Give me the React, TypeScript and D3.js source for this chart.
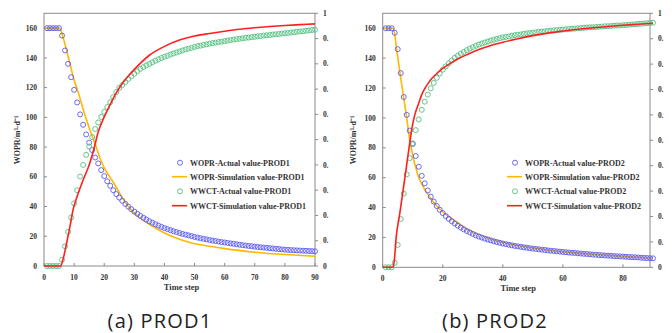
import React from "react";
import * as d3 from "d3";

// time steps for the marker series
const timeSteps = d3.range(1, 91);

// PROD1 actual values (markers)
const prod1WoprActual = [
  160, 160, 160, 160, 160, 155, 145, 136, 127, 118.5,
  110, 102, 95, 88.5, 83, 78, 73, 69, 64.5, 60.5,
  57, 54, 51, 48.4, 46, 43.8, 41.8, 39.9, 38.2, 36.6,
  35.1, 33.7, 32.4, 31.2, 30.1, 29.1, 28.1, 27.2, 26.3, 25.5,
  24.8, 24.1, 23.4, 22.8, 22.2, 21.6, 21.1, 20.6, 20.1, 19.6,
  19.1, 18.7, 18.3, 17.9, 17.5, 17.1, 16.8, 16.4, 16.1, 15.8,
  15.5, 15.2, 14.9, 14.6, 14.3, 14.0, 13.8, 13.5, 13.3, 13.0,
  12.8, 12.6, 12.4, 12.2, 12.0, 11.8, 11.6, 11.4, 11.2, 11.0,
  10.9, 10.7, 10.6, 10.5, 10.4, 10.3, 10.2, 10.1, 10.0, 9.9,
];
const prod1WwctActual = [
  0, 0, 0, 0, 0, 0.025, 0.078, 0.135, 0.192, 0.248,
  0.3, 0.354, 0.4, 0.44, 0.473, 0.51, 0.542, 0.568, 0.59, 0.61,
  0.629, 0.648, 0.668, 0.688, 0.705, 0.716, 0.728, 0.74, 0.751, 0.761,
  0.771, 0.78, 0.787, 0.794, 0.8, 0.806, 0.812, 0.818, 0.823, 0.828,
  0.832, 0.837, 0.841, 0.845, 0.849, 0.853, 0.857, 0.86, 0.863, 0.867,
  0.87, 0.872, 0.875, 0.877, 0.88, 0.882, 0.884, 0.886, 0.888, 0.89,
  0.892, 0.894, 0.896, 0.898, 0.899, 0.901, 0.903, 0.904, 0.906, 0.907,
  0.909, 0.91, 0.912, 0.913, 0.914, 0.916, 0.917, 0.918, 0.92, 0.921,
  0.922, 0.924, 0.925, 0.927, 0.928, 0.929, 0.931, 0.932, 0.934, 0.935,
];
// PROD1 simulation curves
const prod1WoprSimT = [0, 5, 5.5, 6, 7, 8, 9, 10, 11, 12, 13, 14, 15, 16, 17, 18, 19, 20, 22, 24, 26, 28, 30, 35, 40, 45, 50, 55, 60, 70, 80, 90];
const prod1WoprSim = [160, 160, 159, 156, 149, 141, 133, 125, 119, 112.5, 105.5, 99, 93, 87.5, 82, 76, 70.5, 66, 59.5, 53, 46, 40, 35.5, 28, 22.2, 18, 15, 13.3, 11.7, 9.3, 7.7, 6.6];
const prod1WwctSimT = [0, 5.5, 6.5, 7.5, 8.6, 9.7, 11, 13, 15, 16.5, 18, 20, 22, 24, 26, 28, 30, 35, 40, 45, 50, 55, 60, 65, 70, 75, 80, 85, 90];
const prod1WwctSim = [0, 0, 0.035, 0.09, 0.155, 0.225, 0.275, 0.34, 0.4, 0.46, 0.53, 0.59, 0.64, 0.685, 0.722, 0.752, 0.778, 0.834, 0.869, 0.894, 0.91, 0.92, 0.929, 0.937, 0.943, 0.948, 0.952, 0.955, 0.958];

// PROD2 actual values (markers)
const prod2WoprActual = [
  160, 160, 160, 157, 146, 130, 114, 102, 91.5, 82.5,
  74.5, 67.3, 61.2, 56.2, 51.4, 47.3, 44.0, 41.0, 38.5, 36.3,
  34.3, 32.4, 30.8, 29.3, 27.9, 26.6, 25.4, 24.3, 23.3, 22.3,
  21.4, 20.6, 19.9, 19.2, 18.6, 18.0, 17.4, 16.9, 16.4, 15.9,
  15.5, 15.1, 14.7, 14.3, 14.0, 13.7, 13.4, 13.1, 12.8, 12.5,
  12.3, 12.0, 11.8, 11.6, 11.3, 11.1, 10.9, 10.7, 10.5, 10.3,
  10.1, 9.9, 9.7, 9.6, 9.4, 9.2, 9.0, 8.9, 8.7, 8.5,
  8.4, 8.2, 8.1, 7.9, 7.8, 7.7, 7.5, 7.4, 7.3, 7.2,
  7.0, 6.9, 6.8, 6.7, 6.6, 6.4, 6.3, 6.2, 6.1, 6.0,
];
const prod2WwctActual = [
  0, 0, 0, 0.018, 0.088, 0.19, 0.29, 0.366, 0.43, 0.488,
  0.54, 0.582, 0.62, 0.652, 0.68, 0.705, 0.726, 0.746, 0.763, 0.778,
  0.791, 0.803, 0.814, 0.825, 0.833, 0.841, 0.848, 0.855, 0.861, 0.867,
  0.872, 0.877, 0.881, 0.885, 0.889, 0.893, 0.896, 0.899, 0.902, 0.905,
  0.907, 0.909, 0.912, 0.914, 0.916, 0.917, 0.919, 0.921, 0.922, 0.924,
  0.925, 0.927, 0.928, 0.929, 0.931, 0.932, 0.933, 0.934, 0.935, 0.936,
  0.937, 0.938, 0.939, 0.94, 0.941, 0.942, 0.943, 0.944, 0.945, 0.945,
  0.946, 0.947, 0.948, 0.949, 0.949, 0.95, 0.951, 0.952, 0.952, 0.953,
  0.954, 0.955, 0.956, 0.957, 0.958, 0.959, 0.96, 0.961, 0.962, 0.963,
];
// PROD2 simulation curves
const prod2WoprSimT = [0, 3.5, 4, 4.5, 5.3, 6.2, 7.1, 8, 8.8, 9.5, 10.1, 11, 12, 13, 14, 15, 16, 17, 18, 20, 22, 25, 28, 30, 35, 40, 45, 50, 55, 60, 65, 70, 75, 80, 85, 90];
const prod2WoprSim = [160, 160, 156, 148, 136.5, 124, 112, 100, 88, 80, 74, 67, 60, 56, 52, 49, 46, 43.3, 41, 37, 34, 29.8, 25.6, 23.7, 19.6, 16.7, 14.6, 12.9, 11.6, 10.4, 9.5, 8.7, 8, 7.3, 6.7, 6.1];
const prod2WwctSimT = [0, 3.3, 3.8, 4.5, 5.7, 6.8, 7.9, 9, 9.5, 10, 10.8, 11.8, 13, 14, 15, 16.5, 18, 20, 22.5, 25, 28, 32, 36, 40, 45, 50, 55, 60, 65, 70, 75, 80, 85, 90];
const prod2WwctSim = [0, 0, 0.02, 0.12, 0.213, 0.304, 0.396, 0.49, 0.53, 0.565, 0.605, 0.64, 0.68, 0.703, 0.722, 0.745, 0.763, 0.783, 0.803, 0.82, 0.837, 0.857, 0.873, 0.886, 0.9, 0.912, 0.922, 0.93, 0.937, 0.943, 0.948, 0.953, 0.957, 0.961];

// axis ticks
const woprTicks = [0, 20, 40, 60, 80, 100, 120, 140, 160];
const wwctTicks = [0, 0.1, 0.2, 0.3, 0.4, 0.5, 0.6, 0.7, 0.8, 0.9, 1];
const prod1TimeTicks = [0, 10, 20, 30, 40, 50, 60, 70, 80, 90];
const prod2TimeTicks = [0, 20, 40, 60, 80];

const BLUE = "#5a5af0";
const GREEN = "#55c081";
const YELLOW = "#ffb800";
const RED = "#ff1f1f";
const AXIS = "#8a8a8a";
const serif = "'Liberation Serif', 'Times New Roman', serif";

type PanelProps = {
  id: string;
  left: number;
  right: number;
  top: number;
  bottom: number;
  xMax: number;
  timeTicks: number[];
  woprActual: number[];
  wwctActual: number[];
  woprSimT: number[];
  woprSim: number[];
  wwctSimT: number[];
  wwctSim: number[];
  well: string;
  legendX: number;
  yLabelX: number;
};

function Panel(p: PanelProps) {
  const x = d3.scaleLinear().domain([0, p.xMax]).range([p.left, p.right]);
  const y = d3.scaleLinear().domain([0, 170]).range([p.bottom, p.top]);
  const y2 = d3.scaleLinear().domain([0, 1]).range([p.bottom, p.top]);

  const woprLine = d3
    .line<number>()
    .x((_, i) => x(p.woprSimT[i]))
    .y((d) => y(d))
    .curve(d3.curveMonotoneX);
  const wwctLine = d3
    .line<number>()
    .x((_, i) => x(p.wwctSimT[i]))
    .y((d) => y2(d))
    .curve(d3.curveMonotoneX);

  const legendRows = [
    { label: `WOPR-Actual value-${p.well}`, kind: "circle", color: BLUE },
    { label: `WOPR-Simulation value-${p.well}`, kind: "line", color: YELLOW },
    { label: `WWCT-Actual value-${p.well}`, kind: "circle", color: GREEN },
    { label: `WWCT-Simulation value-${p.well}`, kind: "line", color: RED },
  ];
  const legendY = [162.7, 176.7, 191.3, 205.7];
  // the source image was cropped right after "0." of the right axis labels
  const clipRight = p.right + 13.4;

  return (
    <g>
      <defs>
        <clipPath id={`clip-${p.id}`}>
          <rect x={0} y={0} width={clipRight} height={333} />
        </clipPath>
      </defs>

      {/* plot frame */}
      <rect x={p.left} y={p.top} width={p.right - p.left} height={p.bottom - p.top} fill="none" stroke={AXIS} strokeWidth={1} />

      {/* left axis */}
      {woprTicks.map((t) => (
        <g key={`yl${t}`}>
          <line x1={p.left} x2={p.left + 3} y1={y(t)} y2={y(t)} stroke={AXIS} />
          <text x={p.left - 7} y={y(t)} dy="0.35em" textAnchor="end" fontFamily={serif} fontWeight="bold" fontSize={7.5} fill="#333">
            {t}
          </text>
        </g>
      ))}

      {/* bottom axis */}
      {p.timeTicks.map((t) => (
        <g key={`xb${t}`}>
          <line x1={x(t)} x2={x(t)} y1={p.bottom} y2={p.bottom - 3} stroke={AXIS} />
          <text x={x(t)} y={p.bottom + 13.5} textAnchor="middle" fontFamily={serif} fontWeight="bold" fontSize={7.5} fill="#333">
            {t}
          </text>
        </g>
      ))}

      {/* right axis, labels cut at the panel edge */}
      <g clipPath={`url(#clip-${p.id})`}>
        {wwctTicks.map((t) => (
          <g key={`yr${t}`}>
            <line x1={p.right} x2={p.right + 3} y1={y2(t)} y2={y2(t)} stroke={AXIS} />
            <text x={p.right + 8} y={y2(t)} dy="0.35em" fontFamily={serif} fontWeight="bold" fontSize={7.5} fill="#333">
              {t}
            </text>
          </g>
        ))}
      </g>

      {/* axis titles */}
      <text x={(p.left + p.right) / 2 + 2} y={p.bottom + 24} textAnchor="middle" fontFamily={serif} fontWeight="bold" fontSize={8.5} fill="#333">
        Time step
      </text>
      <text
        transform={`translate(${p.yLabelX},140) rotate(-90)`}
        textAnchor="middle"
        fontFamily={serif}
        fontWeight="bold"
        fontSize={8}
        fill="#333"
      >
        WOPR/m³·d⁻¹
      </text>

      {/* simulation lines */}
      <path d={woprLine(p.woprSim) ?? ""} fill="none" stroke={YELLOW} strokeWidth={1.6} />

      {/* actual markers */}
      {timeSteps.map((t, i) => (
        <circle key={`b${t}`} cx={x(t)} cy={y(p.woprActual[i])} r={2.5} fill="none" stroke={BLUE} strokeWidth={0.9} />
      ))}
      {timeSteps.map((t, i) => (
        <circle key={`g${t}`} cx={x(t)} cy={y2(p.wwctActual[i])} r={2.5} fill="none" stroke={GREEN} strokeWidth={0.9} />
      ))}
      <path d={wwctLine(p.wwctSim) ?? ""} fill="none" stroke={RED} strokeWidth={1.6} />

      {/* legend */}
      {legendRows.map((row, i) => (
        <g key={row.label} transform={`translate(${p.legendX},${legendY[i]})`}>
          {row.kind === "circle" ? (
            <circle cx={8} cy={0} r={2.5} fill="none" stroke={row.color} strokeWidth={0.9} />
          ) : (
            <line x1={0} x2={15} y1={0} y2={0} stroke={row.color} strokeWidth={1.6} />
          )}
          <text x={18} y={0} dy="0.35em" fontFamily={serif} fontWeight="bold" fontSize={8} fill="#333">
            {row.label}
          </text>
        </g>
      ))}
    </g>
  );
}

export default function App() {
  return (
    <svg width={672} height={333} style={{ position: "absolute", left: 0, top: 0, background: "#fff" }}>
      <Panel
        id="p1"
        left={44}
        right={315}
        top={13.3}
        bottom={266}
        xMax={90}
        timeTicks={prod1TimeTicks}
        woprActual={prod1WoprActual}
        wwctActual={prod1WwctActual}
        woprSimT={prod1WoprSimT}
        woprSim={prod1WoprSim}
        wwctSimT={prod1WwctSimT}
        wwctSim={prod1WwctSim}
        well="PROD1"
        legendX={172}
        yLabelX={20}
      />
      <Panel
        id="p2"
        left={382.7}
        right={650}
        top={13.3}
        bottom={267.3}
        xMax={89}
        timeTicks={prod2TimeTicks}
        woprActual={prod2WoprActual}
        wwctActual={prod2WwctActual}
        woprSimT={prod2WoprSimT}
        woprSim={prod2WoprSim}
        wwctSimT={prod2WwctSimT}
        wwctSim={prod2WwctSim}
        well="PROD2"
        legendX={507}
        yLabelX={356}
      />
      <text x={160} y={328} textAnchor="middle" fontFamily="'Open Sans', sans-serif" fontSize={20} letterSpacing={1.2} fill="#222">
        (a) PROD1
      </text>
      <text x={495} y={328} textAnchor="middle" fontFamily="'Open Sans', sans-serif" fontSize={20} letterSpacing={1.2} fill="#222">
        (b) PROD2
      </text>
    </svg>
  );
}
